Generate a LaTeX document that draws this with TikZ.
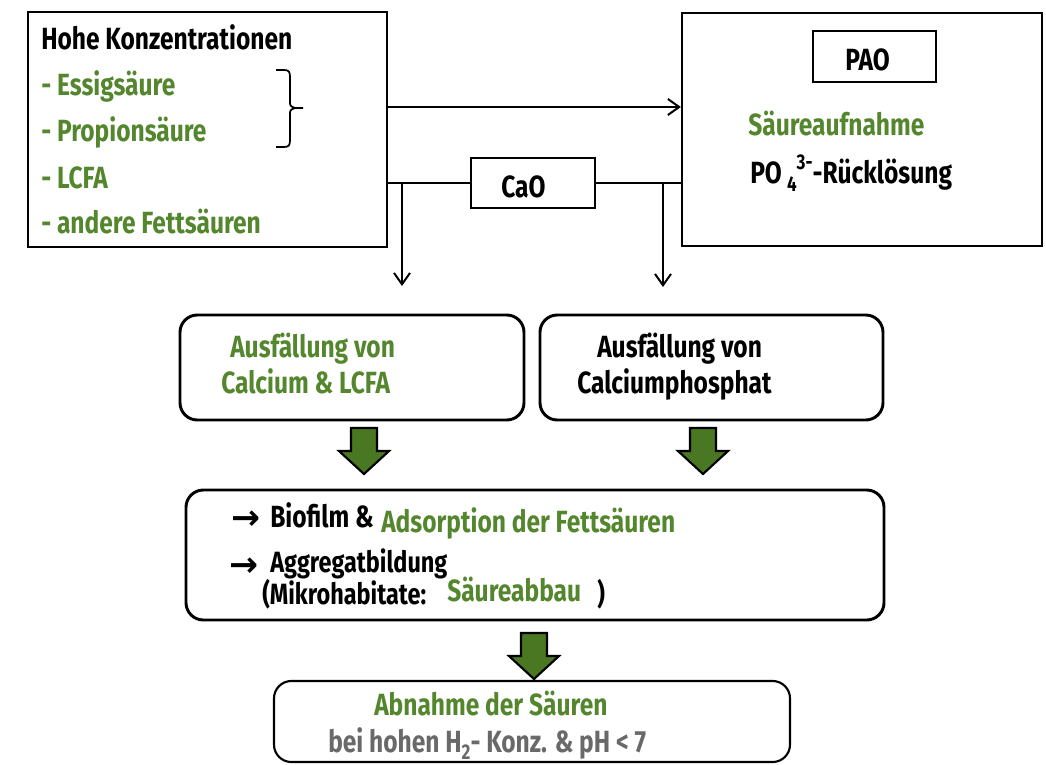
\documentclass[tikz,border=0pt]{standalone}
\usepackage{fontspec}
\setmainfont{Fira Sans}[FakeStretch=0.8]
\newfontfamily\arrowfont{DejaVu Sans}
\usetikzlibrary{arrows.meta,fit}
\definecolor{txtgreen}{RGB}{84,134,46}
\definecolor{arrgreen}{RGB}{74,120,34}
\definecolor{txtgray}{RGB}{105,105,105}
\tikzset{
  lbl/.style={anchor=base west, inner sep=0pt, font=\bfseries\fontsize{23}{25}\selectfont},
  midlbl/.style={lbl, font=\bfseries\fontsize{22}{24}\selectfont},
  arrlbl/.style={anchor=base west, inner sep=0pt, font=\bfseries\arrowfont\fontsize{26}{28}\selectfont},
  sqbox/.style={draw, line width=2.2pt, inner sep=0pt},
  thinbox/.style={draw, line width=1.6pt, inner sep=0pt},
  rbox/.style={draw, line width=2.2pt, inner sep=0pt, rounded corners=13pt},
  rthin/.style={draw, line width=1.6pt, inner sep=0pt, rounded corners=13pt},
  conn/.style={line width=1.5pt},
  darr/.style={conn, -{Straight Barb[length=8.5pt,width=12pt,line width=1.5pt]}},
  garrow/.pic={\draw[line width=1.6pt, fill=arrgreen, line join=miter]
     (-13,0) -- (13,0) -- (13,23) -- (25,23) -- (0,46) -- (-25,23) -- (-13,23) -- cycle;},
}
\newcommand\smallidx[1]{{\fontsize{16}{16}\selectfont #1}}
\begin{document}
\begin{tikzpicture}[x=0.75pt,y=-0.75pt]
\useasboundingbox (0,0) rectangle (1046,764);

% --- boxes
\node[sqbox, fit={(28,12) (387,247)}] (box1) {};
\node[thinbox, fit={(682,13) (1042,246)}] (box2) {};
\node[sqbox, fit={(813,31) (936,82)}] (pao) {};
\node[sqbox, fit={(471,158) (595,208)}] (cao) {};
\node[rbox, fit={(180,315) (524,420)}] (boxA) {};
\node[rbox, fit={(540,315) (883,420)}] (boxB) {};
\node[rbox, fit={(186,490) (884,620)}] (boxC) {};
\node[rthin, fit={(274,681) (790,762)}] (boxD) {};

% --- texts box1
\node[lbl] (t1) at (41,49) {Hohe Konzentrationen};
\node[lbl, text=txtgreen] (t2) at (41,95) {- Essigsäure};
\node[lbl, text=txtgreen] (t3) at (41,141) {- Propionsäure};
\node[lbl, text=txtgreen] (t4) at (41,188) {- LCFA};
\node[lbl, text=txtgreen] (t5) at (41,233) {- andere Fettsäuren};

% brace
\draw[line width=1.3pt] (276,70) -- (284,70) .. controls (289,70) and (290,72) .. (290,77)
  -- (290,101) .. controls (290,106) .. (295,108) -- (303,108);
\draw[line width=1.3pt] (276,147) -- (284,147) .. controls (289,147) and (290,145) .. (290,140)
  -- (290,115) .. controls (290,110) .. (295,108);

% --- box2 texts
\node[lbl] (paol) at (845,70) {PAO};
\node[lbl, text=txtgreen] (s1) at (748,135) {Säureaufnahme};
\node[lbl] (s2) at (750,183) {PO\,\raisebox{-0.5ex}{\smallidx{4}}\raisebox{0.85ex}{\smallidx{3-}}-Rücklösung};

% --- CaO
\node[lbl] (caot) at (501,197) {CaO};

% --- connectors
\coordinate (r1) at (0,107);
\coordinate (r2) at (0,183);
\draw[darr] (box1.east |- r1) -- (box2.west |- r1);
\draw[conn] (box1.east |- r2) -- (cao.west);
\draw[conn] (cao.east) -- (box2.west |- r2);
\coordinate (j1) at (402,183);
\coordinate (e1) at (402,286);
\coordinate (j2) at (663,183);
\coordinate (e2) at (663,287);
\draw[darr] (j1) -- (e1);
\draw[darr] (j2) -- (e2);

% --- box A / B texts
\node[lbl, text=txtgreen] (a1) at (230,357) {Ausfällung von};
\node[lbl, text=txtgreen] (a2) at (221,393) {Calcium \& LCFA};
\node[lbl] (b1) at (597,357) {Ausfällung von};
\node[lbl] (b2) at (577,393) {Calciumphosphat};

% --- green block arrows
\pic at (364,428) {garrow};
\pic at (703,428) {garrow};
\pic at (534,633) {garrow};

% --- box C texts
\node[arrlbl] (c0) at (231,529) {→};
\node[lbl] (c1) at (270,527) {Biofilm \&};
\node[lbl, text=txtgreen] (c2) at (381,532) {Adsorption der Fettsäuren};
\node[arrlbl] (c3) at (229,576) {→};
\node[midlbl] (c4) at (270,572) {Aggregatbildung};
\node[midlbl] (c5) at (262,604) {(Mikrohabitate:};
\node[lbl, text=txtgreen] (c6) at (447,601) {Säureabbau};
\node[midlbl] (c7) at (597,604) {)};

% --- box D texts
\node[lbl, text=txtgreen] (d1) at (374,715) {Abnahme der Säuren};
\node[lbl, text=txtgray] (d2) at (328,752) {bei hohen H\raisebox{-0.45ex}{\smallidx{2}}- Konz. \& pH < 7};
\end{tikzpicture}
\end{document}
